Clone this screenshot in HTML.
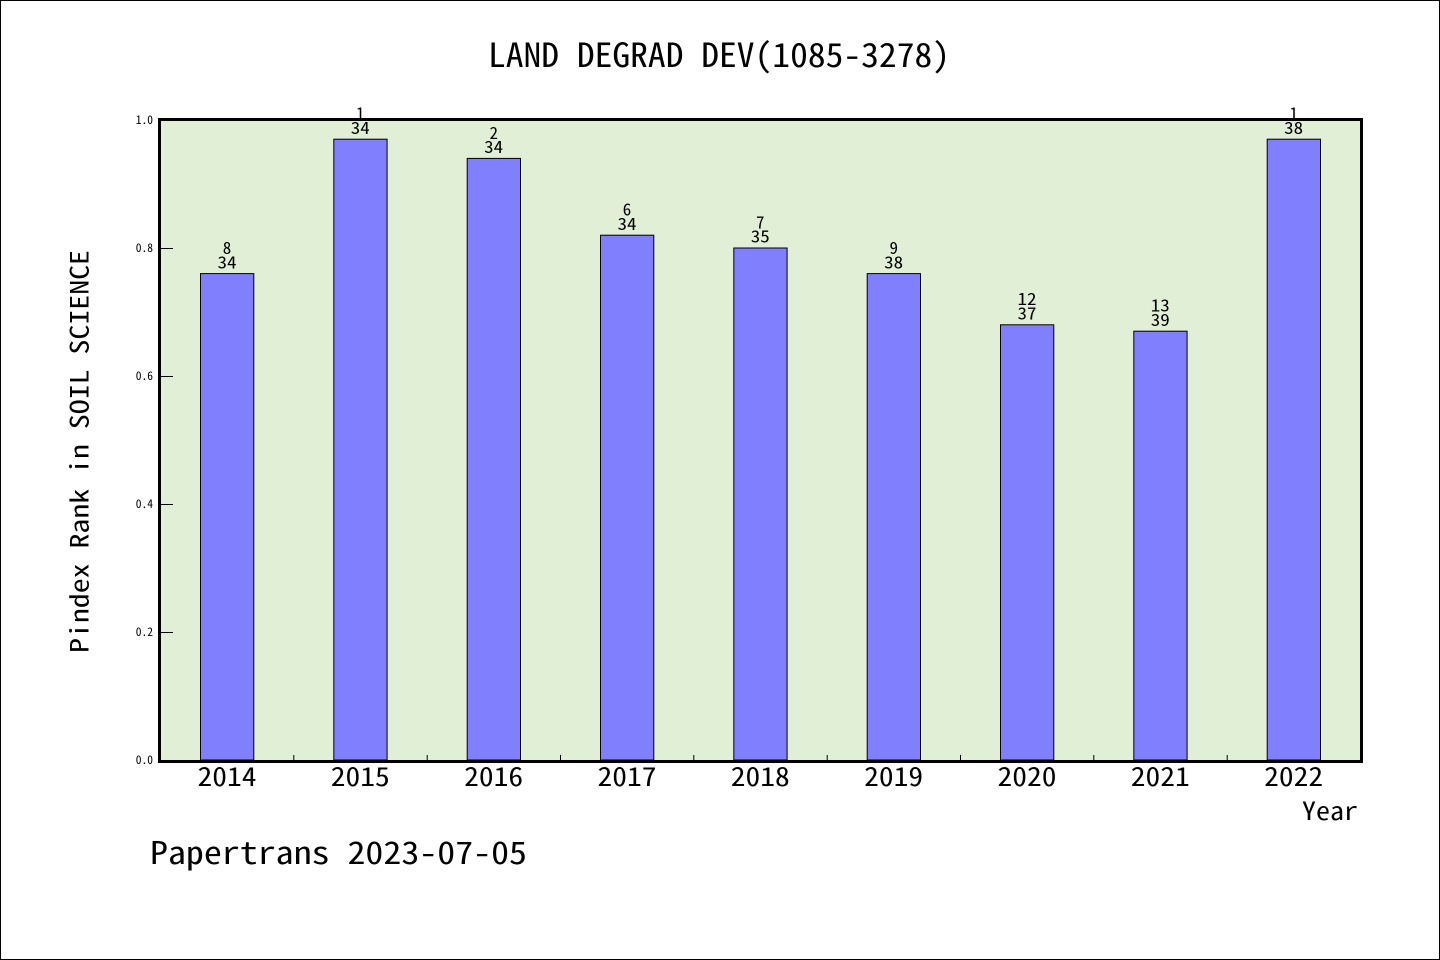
<!DOCTYPE html>
<html>
<head>
<meta charset="utf-8">
<style>
  html,body{margin:0;padding:0;background:#fff;}
  svg{display:block;}
  text{font-family:"WenQuanYi Zen Hei Mono","WenQuanYi Zen Hei","Noto Sans Mono CJK SC","DejaVu Sans Mono",monospace;fill:#000;}
</style>
</head>
<body>
<svg width="1440" height="960" viewBox="0 0 1440 960" xmlns="http://www.w3.org/2000/svg">
  <rect x="0" y="0" width="1440" height="960" fill="#fff"/>
  <rect x="0.5" y="0.5" width="1439" height="959" fill="none" stroke="#000" stroke-width="1"/>

  <!-- title -->
  <text x="488" y="67" font-size="33" textLength="462" lengthAdjust="spacingAndGlyphs">LAND DEGRAD DEV(1085-3278)</text>

  <!-- plot area -->
  <rect x="159.5" y="119.5" width="1202" height="642" fill="#e2efd7"/>

  <!-- bars -->
  <g fill="#8080ff" stroke="#000" stroke-width="1">
    <rect x="200.5" y="273.6" width="53.3" height="486.4"/>
    <rect x="333.8" y="139.2" width="53.3" height="620.8"/>
    <rect x="467.2" y="158.4" width="53.3" height="601.6"/>
    <rect x="600.5" y="235.2" width="53.3" height="524.8"/>
    <rect x="733.8" y="248" width="53.3" height="512"/>
    <rect x="867.2" y="273.6" width="53.3" height="486.4"/>
    <rect x="1000.5" y="324.8" width="53.3" height="435.2"/>
    <rect x="1133.8" y="331.2" width="53.3" height="428.8"/>
    <rect x="1267.2" y="139.2" width="53.3" height="620.8"/>
  </g>

  <!-- bar labels -->
  <g font-size="17" text-anchor="middle">
    <text x="227" y="254">8</text><text x="227" y="268.3" textLength="19" lengthAdjust="spacingAndGlyphs">34</text>
    <text x="360.3" y="119.6">1</text><text x="360.3" y="133.9" textLength="19" lengthAdjust="spacingAndGlyphs">34</text>
    <text x="493.7" y="138.8">2</text><text x="493.7" y="153.1" textLength="19" lengthAdjust="spacingAndGlyphs">34</text>
    <text x="627" y="215.6">6</text><text x="627" y="229.9" textLength="19" lengthAdjust="spacingAndGlyphs">34</text>
    <text x="760.3" y="228.4">7</text><text x="760.3" y="242.7" textLength="19" lengthAdjust="spacingAndGlyphs">35</text>
    <text x="893.7" y="254">9</text><text x="893.7" y="268.3" textLength="19" lengthAdjust="spacingAndGlyphs">38</text>
    <text x="1027" y="305.2" textLength="19" lengthAdjust="spacingAndGlyphs">12</text><text x="1027" y="319.5" textLength="19" lengthAdjust="spacingAndGlyphs">37</text>
    <text x="1160.3" y="311.6" textLength="19" lengthAdjust="spacingAndGlyphs">13</text><text x="1160.3" y="325.9" textLength="19" lengthAdjust="spacingAndGlyphs">39</text>
    <text x="1293.7" y="119.6">1</text><text x="1293.7" y="133.9" textLength="19" lengthAdjust="spacingAndGlyphs">38</text>
  </g>

  <!-- y ticks -->
  <g stroke="#000" stroke-width="1">
    <line x1="161" y1="632.5" x2="173" y2="632.5"/>
    <line x1="161" y1="504.5" x2="173" y2="504.5"/>
    <line x1="161" y1="376.5" x2="173" y2="376.5"/>
    <line x1="161" y1="248.5" x2="173" y2="248.5"/>
  </g>
  <!-- x minor ticks -->
  <g stroke="#000" stroke-width="1">
    <line x1="293.8" y1="755" x2="293.8" y2="760"/>
    <line x1="427.2" y1="755" x2="427.2" y2="760"/>
    <line x1="560.5" y1="755" x2="560.5" y2="760"/>
    <line x1="693.8" y1="755" x2="693.8" y2="760"/>
    <line x1="827.2" y1="755" x2="827.2" y2="760"/>
    <line x1="960.5" y1="755" x2="960.5" y2="760"/>
    <line x1="1093.8" y1="755" x2="1093.8" y2="760"/>
    <line x1="1227.2" y1="755" x2="1227.2" y2="760"/>
  </g>

  <!-- frame -->
  <rect x="159.5" y="119.5" width="1202" height="642" fill="none" stroke="#000" stroke-width="3"/>

  <!-- y tick labels -->
  <g font-size="11.5" text-anchor="end">
    <text x="153" y="764">0.0</text>
    <text x="153" y="636">0.2</text>
    <text x="153" y="508">0.4</text>
    <text x="153" y="380">0.6</text>
    <text x="153" y="252">0.8</text>
    <text x="153" y="124">1.0</text>
  </g>

  <!-- x tick labels -->
  <g font-size="26" text-anchor="middle">
    <text x="227" y="786" textLength="59" lengthAdjust="spacingAndGlyphs">2014</text>
    <text x="360.3" y="786" textLength="59" lengthAdjust="spacingAndGlyphs">2015</text>
    <text x="493.7" y="786" textLength="59" lengthAdjust="spacingAndGlyphs">2016</text>
    <text x="627" y="786" textLength="59" lengthAdjust="spacingAndGlyphs">2017</text>
    <text x="760.3" y="786" textLength="59" lengthAdjust="spacingAndGlyphs">2018</text>
    <text x="893.7" y="786" textLength="59" lengthAdjust="spacingAndGlyphs">2019</text>
    <text x="1027" y="786" textLength="59" lengthAdjust="spacingAndGlyphs">2020</text>
    <text x="1160.3" y="786" textLength="59" lengthAdjust="spacingAndGlyphs">2021</text>
    <text x="1293.7" y="786" textLength="59" lengthAdjust="spacingAndGlyphs">2022</text>
  </g>

  <!-- axis labels -->
  <text x="1302" y="820" font-size="25" textLength="56" lengthAdjust="spacingAndGlyphs">Year</text>
  <text transform="translate(88.5,653) rotate(-90)" x="0" y="0" font-size="25" textLength="403" lengthAdjust="spacingAndGlyphs">Pindex Rank in SOIL SCIENCE</text>

  <!-- footer -->
  <text x="150" y="864" font-size="31" textLength="377" lengthAdjust="spacingAndGlyphs">Papertrans 2023-07-05</text>
</svg>
</body>
</html>
